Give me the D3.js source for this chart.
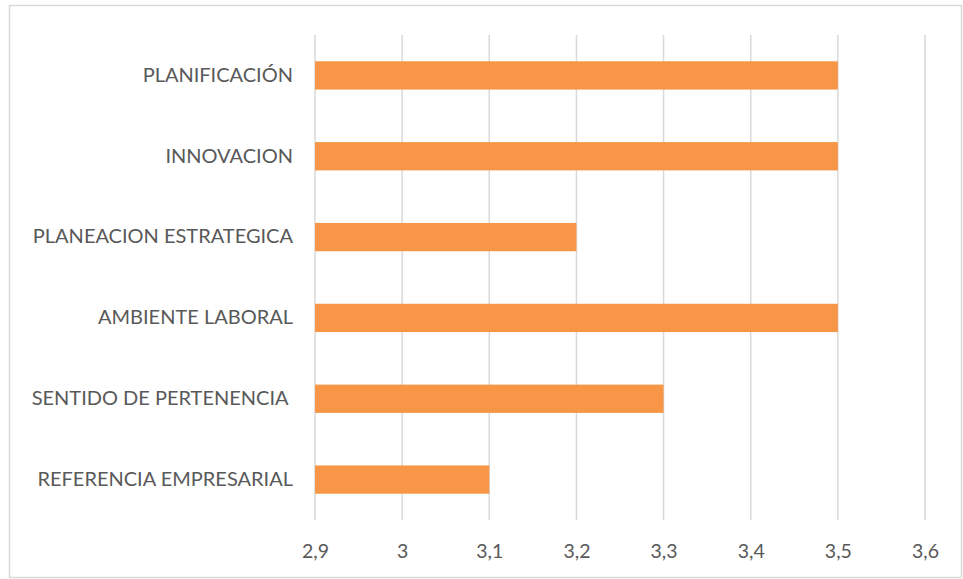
<!DOCTYPE html>
<html>
<head>
<meta charset="utf-8">
<script src="https://cdn.jsdelivr.net/npm/d3@7"></script>
<style>
  body { margin: 0; background: #fff; }
  text { font-family: Lato, "Open Sans", sans-serif; fill: #595959; }
</style>
</head>
<body>
<div id="chart"></div>
<script>
// categories listed top to bottom
const categories = [
    "PLANIFICACIÓN",
    "INNOVACION",
    "PLANEACION ESTRATEGICA",
    "AMBIENTE LABORAL",
    "SENTIDO DE PERTENENCIA ",
    "REFERENCIA EMPRESARIAL"
];
const values = [3.5, 3.5, 3.2, 3.5, 3.3, 3.1];
const tickValues = [2.9, 3.0, 3.1, 3.2, 3.3, 3.4, 3.5, 3.6];

const W = 963, H = 579;
const margin = { top: 35, right: 38, bottom: 59, left: 315 };
const width = W - margin.left - margin.right;
const height = H - margin.top - margin.bottom;

const svg = d3.select("#chart")
    .append("svg")
    .attr("width", W)
    .attr("height", H);

// outer frame
svg.append("rect")
    .attr("x", 9.5)
    .attr("y", 5.5)
    .attr("width", W - 11)
    .attr("height", H - 7)
    .attr("fill", "none")
    .attr("stroke", "#d9d9d9")
    .attr("stroke-width", 1.5);

const g = svg.append("g")
    .attr("transform", "translate(" + margin.left + "," + margin.top + ")");

const x = d3.scaleLinear()
    .domain([2.9, 3.6])
    .range([0, width]);

const y = d3.scaleBand()
    .domain(categories)
    .range([0, height])
    .paddingInner(0.65)
    .paddingOuter(0.325);

// vertical gridlines
g.selectAll(".grid")
    .data(tickValues)
    .enter().append("line")
    .attr("class", "grid")
    .attr("x1", d => x(d))
    .attr("x2", d => x(d))
    .attr("y1", 0)
    .attr("y2", height)
    .attr("stroke", "#d9d9d9")
    .attr("stroke-width", 1.5);

// bars
g.selectAll(".bar")
    .data(categories)
    .enter().append("rect")
    .attr("class", "bar")
    .attr("x", x(2.9))
    .attr("y", d => y(d))
    .attr("width", (d, i) => x(values[i]) - x(2.9))
    .attr("height", y.bandwidth())
    .attr("fill", "#f79646");

// x axis labels
const xAxis = g.append("g")
    .attr("transform", "translate(0," + height + ")")
    .call(d3.axisBottom(x)
        .tickValues(tickValues)
        .tickSize(0)
        .tickPadding(24)
        .tickFormat(d => d3.format(".1~f")(d).replace(".", ",")));
xAxis.select(".domain").remove();
xAxis.selectAll("text")
    .attr("font-size", 19.5)
    .attr("font-family", null)
    .attr("fill", null);

// category labels
const yAxis = g.append("g")
    .call(d3.axisLeft(y).tickSize(0).tickPadding(22));
yAxis.select(".domain").remove();
yAxis.selectAll("text")
    .attr("font-size", 20)
    .attr("font-family", null)
    .attr("fill", null)
    .style("white-space", "pre");
</script>
</body>
</html>
